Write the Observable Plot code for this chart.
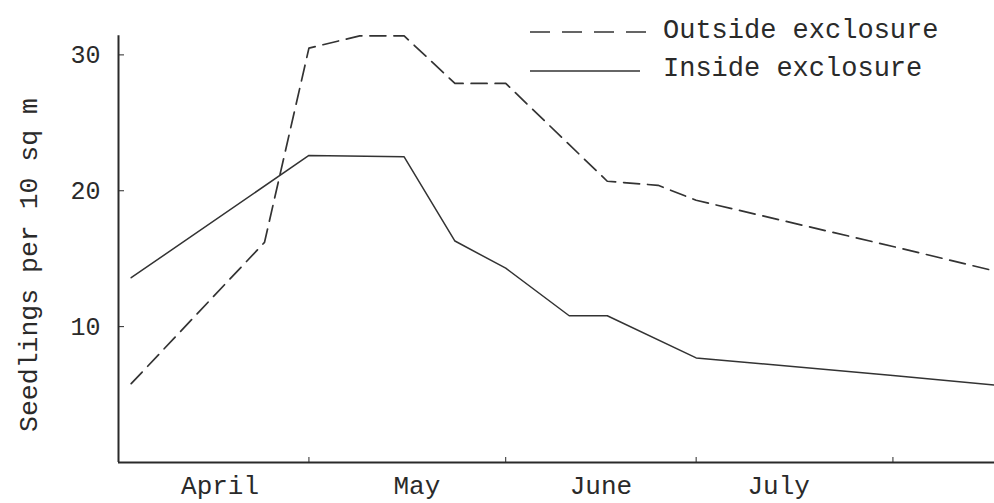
<!DOCTYPE html>
<html>
<head>
<meta charset="utf-8">
<script src="https://cdn.jsdelivr.net/npm/d3@7"></script>
<script src="https://cdn.jsdelivr.net/npm/@observablehq/plot@0.6"></script>
<style>
  html, body { margin: 0; padding: 0; background: #fff; }
  #wrap { position: relative; width: 994px; height: 503px; }
  #overlay { position: absolute; left: 0; top: 0; pointer-events: none; }
  #overlay text { font-family: "Courier New", "Liberation Mono", monospace; fill: #2a2a2a; }
</style>
</head>
<body>
<div id="wrap">
  <div id="chart"></div>
  <svg id="overlay" width="994" height="503">
    <line x1="530" y1="32" x2="647" y2="32" stroke="#333" stroke-width="1.6" stroke-dasharray="20,12"></line>
    <text x="663" y="38" font-size="27">Outside exclosure</text>
    <line x1="530" y1="71" x2="640" y2="71" stroke="#333" stroke-width="1.4"></line>
    <text x="663" y="76" font-size="27">Inside exclosure</text>
    <text id="ylabel" transform="translate(37,265) rotate(-90)" text-anchor="middle" font-size="26.5"></text>
  </svg>
</div>
<script>
// Dates of observation (season, arbitrary year) and seedlings per 10 sq m
const outsideDates = ["2001-04-03","2001-04-24","2001-05-01","2001-05-09","2001-05-16","2001-05-24","2001-06-01","2001-06-17","2001-06-25","2001-07-01","2001-08-01","2001-08-17"];
const outsideValues = [5.8, 16.2, 30.5, 31.4, 31.4, 27.9, 27.9, 20.7, 20.4, 19.3, 15.9, 14.1];

const insideDates = ["2001-04-03","2001-05-01","2001-05-16","2001-05-24","2001-06-01","2001-06-11","2001-06-17","2001-07-01","2001-08-01","2001-08-17"];
const insideValues = [13.6, 22.6, 22.5, 16.3, 14.3, 10.8, 10.8, 7.7, 6.4, 5.7];

const yTicks = [10, 20, 30];
const monthStarts = ["2001-05-01","2001-06-01","2001-07-01","2001-08-01"];
const monthLabelDates = ["2001-04-17","2001-05-18","2001-06-16","2001-07-14"];
const monthLabels = ["April","May","June","July"];
const xDomain = ["2001-04-01","2001-08-17"];
const yDomain = [0, 31.5];
const yLabel = "Seedlings per 10 sq m";

document.getElementById("ylabel").textContent = yLabel;

const parse = d3.utcParse("%Y-%m-%d");
const outside = outsideDates.map((d, i) => ({date: parse(d), value: outsideValues[i]}));
const inside = insideDates.map((d, i) => ({date: parse(d), value: insideValues[i]}));
const labelMap = new Map(monthLabelDates.map((d, i) => [+parse(d), monthLabels[i]]));
const xStart = parse(xDomain[0]);

const ink = "#2a2a2a";
const chart = Plot.plot({
  width: 994,
  height: 503,
  marginLeft: 118,
  marginRight: 0,
  marginTop: 34,
  marginBottom: 41,
  style: {fontFamily: "'Courier New', 'Liberation Mono', monospace", fontSize: "25px", color: ink, background: "#fff"},
  x: {type: "utc", domain: xDomain.map(parse)},
  y: {domain: yDomain},
  marks: [
    Plot.ruleY([0], {stroke: ink, strokeWidth: 2}),
    Plot.ruleX([xStart], {y1: yDomain[0], y2: yDomain[1] - 0.1, stroke: ink, strokeWidth: 2}),
    Plot.axisY({ticks: yTicks, tickSize: 0, tickPadding: 18, label: null, fontSize: 25}),
    Plot.axisY({ticks: yTicks, tickSize: -6, text: null, label: null, stroke: ink}),
    Plot.axisX({ticks: monthStarts.map(parse), tickSize: -5, text: null, label: null, stroke: ink}),
    Plot.axisX({ticks: monthLabelDates.map(parse), tickSize: 0, tickPadding: 13, label: null,
      tickFormat: d => labelMap.get(+d), fontSize: 26}),
    Plot.line(outside, {x: "date", y: "value", stroke: "#333", strokeWidth: 1.7, strokeDasharray: "16,8"}),
    Plot.line(inside, {x: "date", y: "value", stroke: "#333", strokeWidth: 1.5})
  ]
});
document.getElementById("chart").appendChild(chart);
</script>
</body>
</html>
